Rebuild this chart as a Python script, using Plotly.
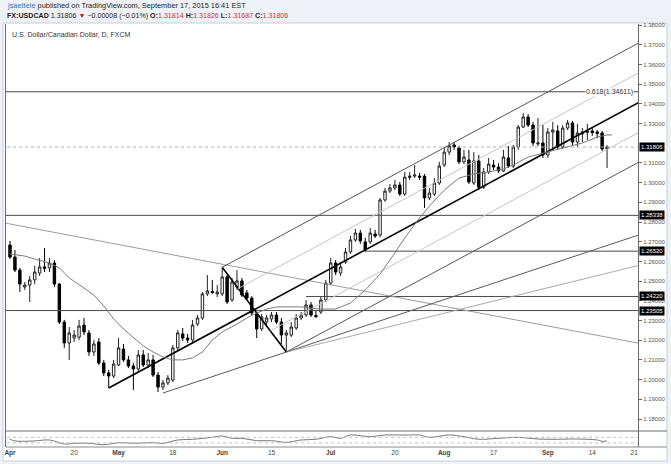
import plotly.graph_objects as go
import pandas as pd

# ---------------- data ----------------
dates = list(pd.bdate_range("2015-04-01", "2015-09-17"))
opens = [1.2683,1.2622,1.2556,1.2470,1.2480,1.2506,1.2541,1.2572,1.2567,1.2592,
         1.2485,1.2292,1.2186,1.2211,1.2216,1.2277,1.2237,1.2140,1.2191,1.2084,
         1.2034,1.2018,1.2074,1.2155,1.2100,1.2069,1.2054,1.2125,1.2074,1.2100,
         1.2023,1.1962,1.1983,1.1998,1.2161,1.2232,1.2211,1.2201,1.2282,1.2313,
         1.2435,1.2447,1.2435,1.2435,1.2521,1.2404,1.2470,1.2501,1.2440,1.2414,
         1.2333,1.2257,1.2292,1.2308,1.2328,1.2292,1.2226,1.2226,1.2262,1.2313,
         1.2328,1.2379,1.2325,1.2343,1.2404,1.2490,1.2592,1.2541,1.2597,1.2648,
         1.2709,1.2744,1.2699,1.2699,1.2739,1.2734,1.2912,1.2957,1.2973,1.2988,
         1.2942,1.3026,1.3033,1.3033,1.3033,1.2922,1.2942,1.2998,1.3089,1.3155,
         1.3191,1.3176,1.3105,1.3115,1.2998,1.3110,1.2977,1.3054,1.3089,1.3079,
         1.3059,1.3125,1.3084,1.3181,1.3282,1.3333,1.3292,1.3196,1.3201,1.3140,
         1.3257,1.3262,1.3181,1.3277,1.3303,1.3206,1.3247,1.3254,1.3262,1.3257,
         1.3252,1.3171]
highs = [1.2704,1.2658,1.2567,1.2496,1.2526,1.2577,1.2617,1.2668,1.2617,1.2607,
         1.2490,1.2303,1.2267,1.2252,1.2303,1.2313,1.2252,1.2201,1.2211,1.2100,
         1.2049,1.2100,1.2211,1.2181,1.2120,1.2084,1.2150,1.2150,1.2135,1.2125,
         1.2039,1.1998,1.2023,1.2176,1.2252,1.2262,1.2232,1.2303,1.2328,1.2445,
         1.2531,1.2506,1.2480,1.2567,1.2531,1.2516,1.2556,1.2516,1.2455,1.2424,
         1.2343,1.2333,1.2328,1.2343,1.2343,1.2313,1.2252,1.2292,1.2333,1.2343,
         1.2404,1.2394,1.2353,1.2424,1.2506,1.2617,1.2607,1.2597,1.2668,1.2729,
         1.2765,1.2760,1.2719,1.2770,1.2760,1.2922,1.2973,1.2993,1.3013,1.3003,
         1.3054,1.3054,1.3089,1.3049,1.3044,1.2973,1.3023,1.3105,1.3176,1.3206,
         1.3206,1.3186,1.3166,1.3166,1.3155,1.3140,1.3074,1.3125,1.3115,1.3099,
         1.3166,1.3186,1.3191,1.3292,1.3353,1.3348,1.3308,1.3328,1.3292,1.3277,
         1.3308,1.3292,1.3292,1.3318,1.3313,1.3298,1.3277,1.3298,1.3277,1.3267,
         1.3262,1.3190]
lows = [1.2612,1.2546,1.2445,1.2455,1.2394,1.2485,1.2526,1.2546,1.2546,1.2470,
        1.2282,1.2161,1.2100,1.2191,1.2201,1.2226,1.2120,1.2120,1.2074,1.2018,
        1.1957,1.2008,1.2069,1.2090,1.2059,1.1947,1.2039,1.2064,1.2059,1.2013,
        1.1937,1.1947,1.1972,1.1988,1.2150,1.2196,1.2186,1.2191,1.2272,1.2303,
        1.2424,1.2435,1.2419,1.2424,1.2384,1.2394,1.2455,1.2419,1.2404,1.2328,
        1.2211,1.2247,1.2277,1.2292,1.2282,1.2181,1.2145,1.2216,1.2252,1.2303,
        1.2318,1.2318,1.2313,1.2333,1.2394,1.2480,1.2531,1.2526,1.2587,1.2638,
        1.2699,1.2689,1.2648,1.2689,1.2719,1.2724,1.2902,1.2947,1.2962,1.2932,
        1.2932,1.3013,1.3023,1.3013,1.2871,1.2912,1.2932,1.2988,1.3079,1.3140,
        1.3166,1.3094,1.3094,1.2993,1.2988,1.2962,1.2967,1.3044,1.3064,1.3049,
        1.3054,1.3074,1.3074,1.3166,1.3277,1.3282,1.3186,1.3186,1.3125,1.3125,
        1.3166,1.3166,1.3171,1.3267,1.3191,1.3181,1.3206,1.3216,1.3237,1.3226,
        1.3160,1.3074]
closes = [1.2622,1.2556,1.2485,1.2480,1.2506,1.2546,1.2572,1.2565,1.2592,1.2485,
          1.2292,1.2186,1.2237,1.2226,1.2272,1.2242,1.2140,1.2181,1.2084,1.2034,
          1.2018,1.2079,1.2161,1.2100,1.2069,1.2054,1.2125,1.2074,1.2100,1.2023,
          1.1962,1.1983,1.2008,1.2161,1.2237,1.2211,1.2201,1.2277,1.2313,1.2435,
          1.2450,1.2442,1.2445,1.2521,1.2394,1.2496,1.2501,1.2429,1.2414,1.2338,
          1.2257,1.2318,1.2313,1.2328,1.2292,1.2226,1.2237,1.2267,1.2313,1.2328,
          1.2379,1.2328,1.2320,1.2404,1.2490,1.2592,1.2546,1.2572,1.2648,1.2709,
          1.2744,1.2704,1.2658,1.2744,1.2729,1.2912,1.2957,1.2973,1.2988,1.2942,
          1.3028,1.3033,1.3039,1.3028,1.2922,1.2947,1.2998,1.3084,1.3155,1.3186,
          1.3181,1.3105,1.3130,1.3003,1.3110,1.2977,1.3054,1.3094,1.3079,1.3059,
          1.3130,1.3084,1.3181,1.3282,1.3333,1.3292,1.3201,1.3201,1.3140,1.3257,
          1.3267,1.3181,1.3277,1.3303,1.3206,1.3252,1.3257,1.3262,1.3254,1.3250,
          1.3171,1.31806]

# 20-day moving average (bar index, price)
ma_idx = [0,3,5,8,10,12,15,17,19,21,23,25,27,29,31,33,35,37,39,41,43,46,48,50,52,54,56,59,61,
          63,66,69,72,75,78,80,83,85,88,91,94,97,100,102,105,108,110,113,116,119,121,122]
ma_val = [1.2638,1.2627,1.2612,1.2592,1.2567,1.2516,1.2465,1.2429,1.2374,1.2308,1.2257,1.2216,
          1.2171,1.2140,1.2115,1.2100,1.2100,1.2110,1.2140,1.2201,1.2242,1.2282,1.2313,1.2338,
          1.2358,1.2369,1.2369,1.2369,1.2363,1.2358,1.2358,1.2389,1.2455,1.2536,1.2643,1.2719,
          1.2820,1.2881,1.2962,1.3023,1.3044,1.3054,1.3069,1.3089,1.3130,1.3150,1.3160,1.3181,
          1.3201,1.3231,1.3242,1.3242]

# lower-pane oscillator (bar index, value)
osc_idx = [0,1,5,8,11,13,16,19,22,25,29,31,34,37,41,43,45,47,50,53,56,59,62,65,67,69,73,76,
           79,81,83,85,89,92,95,99,103,107,111,114,119,120,121]
osc_val = [56,44,44,51,22,27,27,17,31,27,31,27,51,56,70,80,63,63,46,46,34,51,56,75,63,87,75,87,
           87,87,87,70,87,75,56,63,70,58,56,58,51,41,44]

# drawing tools
hlines_full = [1.34611, 1.28338, 1.23505]
hlines_partial = [(72, 1.26520), (60, 1.24220)]
pitchfork = [(20, 1.1957), (43, 1.2570), (56, 1.2140)]
desc_line = [(0, 1.2790), (120, 1.2220)]
fan_dark = [(31, 1.1932), (56, 1.2140)]
fan_light = [(56, 1.2140), (120, 1.2534)]
label_prices = [1.31806, 1.28338, 1.26520, 1.24220, 1.23505]
last_price = 1.31806

tick_dates = ["2015-04-01", "2015-04-20", "2015-05-01", "2015-05-18", "2015-06-01", "2015-06-15",
              "2015-07-01", "2015-07-20", "2015-08-03", "2015-08-17", "2015-09-01", "2015-09-14"]
tick_text = ["<b>Apr</b>", "20", "<b>May</b>", "18", "<b>Jun</b>", "15", "<b>Jul</b>", "20",
             "<b>Aug</b>", "17", "<b>Sep</b>", "14"]
future_tick = (126.5, "21")
price_ticks = [1.18, 1.19, 1.20, 1.21, 1.22, 1.23, 1.24, 1.25, 1.26, 1.27, 1.28, 1.29, 1.30,
               1.31, 1.33, 1.34, 1.35, 1.36, 1.37, 1.38]

# ---------------- layout geometry ----------------
W, H = 671, 464
PL, PR, PT, PB = 4, 638, 24, 447
SEP = 431
XMIN, XMAX = -0.81, 127.27
YMIN, YMAX = 1.17391, 1.38051
FONT = "Liberation Sans, Arial"

def pxx(px):
    return (px - PL) / (PR - PL)

def pxy(py):
    return (PB - py) / (PB - PT)

x = list(range(len(dates)))
dstr = [d.strftime("%Y-%m-%d") for d in dates]
tickvals = [dstr.index(d) for d in tick_dates] + [future_tick[0]]
tick_text = tick_text + [future_tick[1]]

fig = go.Figure()

def seg(p0, p1, x_end=XMAX + 2, color="#555", width=1, x_start=None):
    (x0, y0), (x1, y1) = p0, p1
    s = (y1 - y0) / (x1 - x0)
    xs = x0 if x_start is None else x_start
    fig.add_trace(go.Scatter(x=[xs, x_end], y=[y0 + s * (xs - x0), y0 + s * (x_end - x0)],
                             mode="lines", line=dict(color=color, width=width),
                             hoverinfo="skip", showlegend=False))

# horizontal lines
for p in hlines_full:
    fig.add_trace(go.Scatter(x=[XMIN - 1, XMAX + 1], y=[p, p], mode="lines",
                             line=dict(color="#4a4a4a", width=1), showlegend=False, hoverinfo="skip"))
for i0, p in hlines_partial:
    fig.add_trace(go.Scatter(x=[i0, XMAX + 1], y=[p, p], mode="lines",
                             line=dict(color="#4a4a4a", width=1), showlegend=False, hoverinfo="skip"))
fig.add_trace(go.Scatter(x=[XMIN - 1, XMAX + 1], y=[last_price, last_price], mode="lines",
                         line=dict(color="#b0b0b0", width=1, dash="dot"), showlegend=False, hoverinfo="skip"))

# descending line
seg(desc_line[0], desc_line[1], color="#9a9a9a", x_start=XMIN - 1)
# fan lines
seg(fan_dark[0], fan_dark[1], color="#5a5a5a")
seg(fan_light[0], fan_light[1], color="#a8a8a8")

# pitchfork
P1, P2, P3 = pitchfork
M = ((P2[0] + P3[0]) / 2, (P2[1] + P3[1]) / 2)
seg(P1, M, color="#000", width=1.6)
fig.add_trace(go.Scatter(x=[P2[0], P3[0]], y=[P2[1], P3[1]], mode="lines",
                         line=dict(color="#000", width=1.6), showlegend=False, hoverinfo="skip"))
slope = (M[1] - P1[1]) / (M[0] - P1[0])
for base, col in [(P2, "#555"), (P3, "#555")]:
    seg(base, (base[0] + 1, base[1] + slope), color=col)
for a, b in [(P2, M), (M, P3)]:
    mid = ((a[0] + b[0]) / 2, (a[1] + b[1]) / 2)
    seg(mid, (mid[0] + 1, mid[1] + slope), color="#c4c4c4")

# moving average
fig.add_trace(go.Scatter(x=ma_idx, y=ma_val, mode="lines", line=dict(color="#7a7a7a", width=1),
                         showlegend=False, hoverinfo="skip"))

# candles
fig.add_trace(go.Candlestick(
    x=x, open=opens, high=highs, low=lows, close=closes,
    increasing=dict(line=dict(color="#222", width=1), fillcolor="#ffffff"),
    decreasing=dict(line=dict(color="#000", width=1), fillcolor="#000000"),
    whiskerwidth=0, showlegend=False, hoverinfo="skip"))

# oscillator
fig.add_trace(go.Scatter(x=osc_idx, y=osc_val, mode="lines", line=dict(color="#777", width=1, shape="spline"),
                         xaxis="x", yaxis="y2", showlegend=False, hoverinfo="skip"))
for lv in (30, 70):
    fig.add_trace(go.Scatter(x=[XMIN - 1, XMAX + 1], y=[lv, lv], mode="lines",
                             line=dict(color="#c0c0c0", width=1, dash="dot"),
                             xaxis="x", yaxis="y2", showlegend=False, hoverinfo="skip"))

shapes = [
    dict(type="rect", xref="paper", yref="paper", x0=pxx(1), x1=pxx(667), y0=pxy(461), y1=pxy(23),
         fillcolor="#ffffff", line=dict(color="#c9cfd6", width=1), layer="below"),
    dict(type="line", xref="paper", yref="paper", x0=pxx(PL), x1=pxx(667), y0=pxy(SEP), y1=pxy(SEP),
         line=dict(color="#6a6a6a", width=1)),
    dict(type="line", xref="paper", yref="paper", x0=pxx(PL), x1=pxx(667), y0=pxy(PB), y1=pxy(PB),
         line=dict(color="#8a8a8a", width=1)),
]

ann = []
ann.append(dict(xref="paper", yref="paper", x=pxx(3), y=pxy(6), xanchor="left", yanchor="middle",
                text="<span style='color:#2a7ab8'>jsaettele</span> published on TradingView.com, September 17, 2015 16:41 EST",
                showarrow=False, font=dict(size=7.4, color="#222", family=FONT)))
ann.append(dict(xref="paper", yref="paper", x=pxx(3), y=pxy(16), xanchor="left", yanchor="middle",
                text="<b>FX:USDCAD</b> 1.31806 <span style='color:#c8102e'>▼</span> −0.00008 (−0.01%) "
                     "<b>O:</b><span style='color:#c8323c'>1.31814</span> <b>H:</b><span style='color:#c8323c'>1.31826</span> "
                     "<b>L:</b><span style='color:#c8323c'>1.31687</span> <b>C:</b><span style='color:#c8323c'>1.31806</span>",
                showarrow=False, font=dict(size=7.1, color="#222", family=FONT)))
ann.append(dict(xref="paper", yref="paper", x=pxx(8), y=pxy(34), xanchor="left", yanchor="middle",
                text="U.S. Dollar/Canadian Dollar, D, FXCM", showarrow=False,
                font=dict(size=7, color="#333", family=FONT)))
ann.append(dict(xref="paper", yref="y", x=pxx(634), y=hlines_full[0], xanchor="right", yanchor="middle",
                text="0.618(1.34611)", showarrow=False, bgcolor="#ffffff", borderpad=0,
                font=dict(size=7, color="#333", family=FONT)))
for p in label_prices:
    ann.append(dict(xref="paper", yref="y", x=1, y=p, xanchor="left", yanchor="middle", xshift=1,
                    text="%.5f" % p, showarrow=False, bgcolor="#000000", borderpad=1,
                    font=dict(size=6, color="#ffffff", family=FONT)))

fig.update_layout(
    width=W, height=H, margin=dict(l=PL, r=W - PR, t=PT, b=H - PB),
    paper_bgcolor="#eef2f6", plot_bgcolor="#ffffff",
    showlegend=False, shapes=shapes, annotations=ann,
    xaxis=dict(range=[XMIN, XMAX], anchor="y2", tickvals=tickvals, ticktext=tick_text,
               showgrid=False, zeroline=False, showline=False, ticks="",
               tickfont=dict(size=6.5, color="#444", family=FONT),
               rangeslider=dict(visible=False), fixedrange=True),
    yaxis=dict(domain=[(PB - SEP) / (PB - PT), 1], range=[YMIN, YMAX], side="right",
               tickvals=price_ticks, ticktext=["%.5f" % v for v in price_ticks], ticks="outside", ticklen=3,
               tickcolor="#666", showgrid=False, zeroline=False, showline=True, linecolor="#6a6a6a",
               mirror=True, tickfont=dict(size=6, color="#555", family=FONT)),
    yaxis2=dict(domain=[0, (PB - SEP) / (PB - PT)], range=[0, 116], side="right", showticklabels=False,
                showgrid=False, zeroline=False, showline=True, linecolor="#6a6a6a", mirror=True, ticks=""),
)

fig.write_html("out.html")
